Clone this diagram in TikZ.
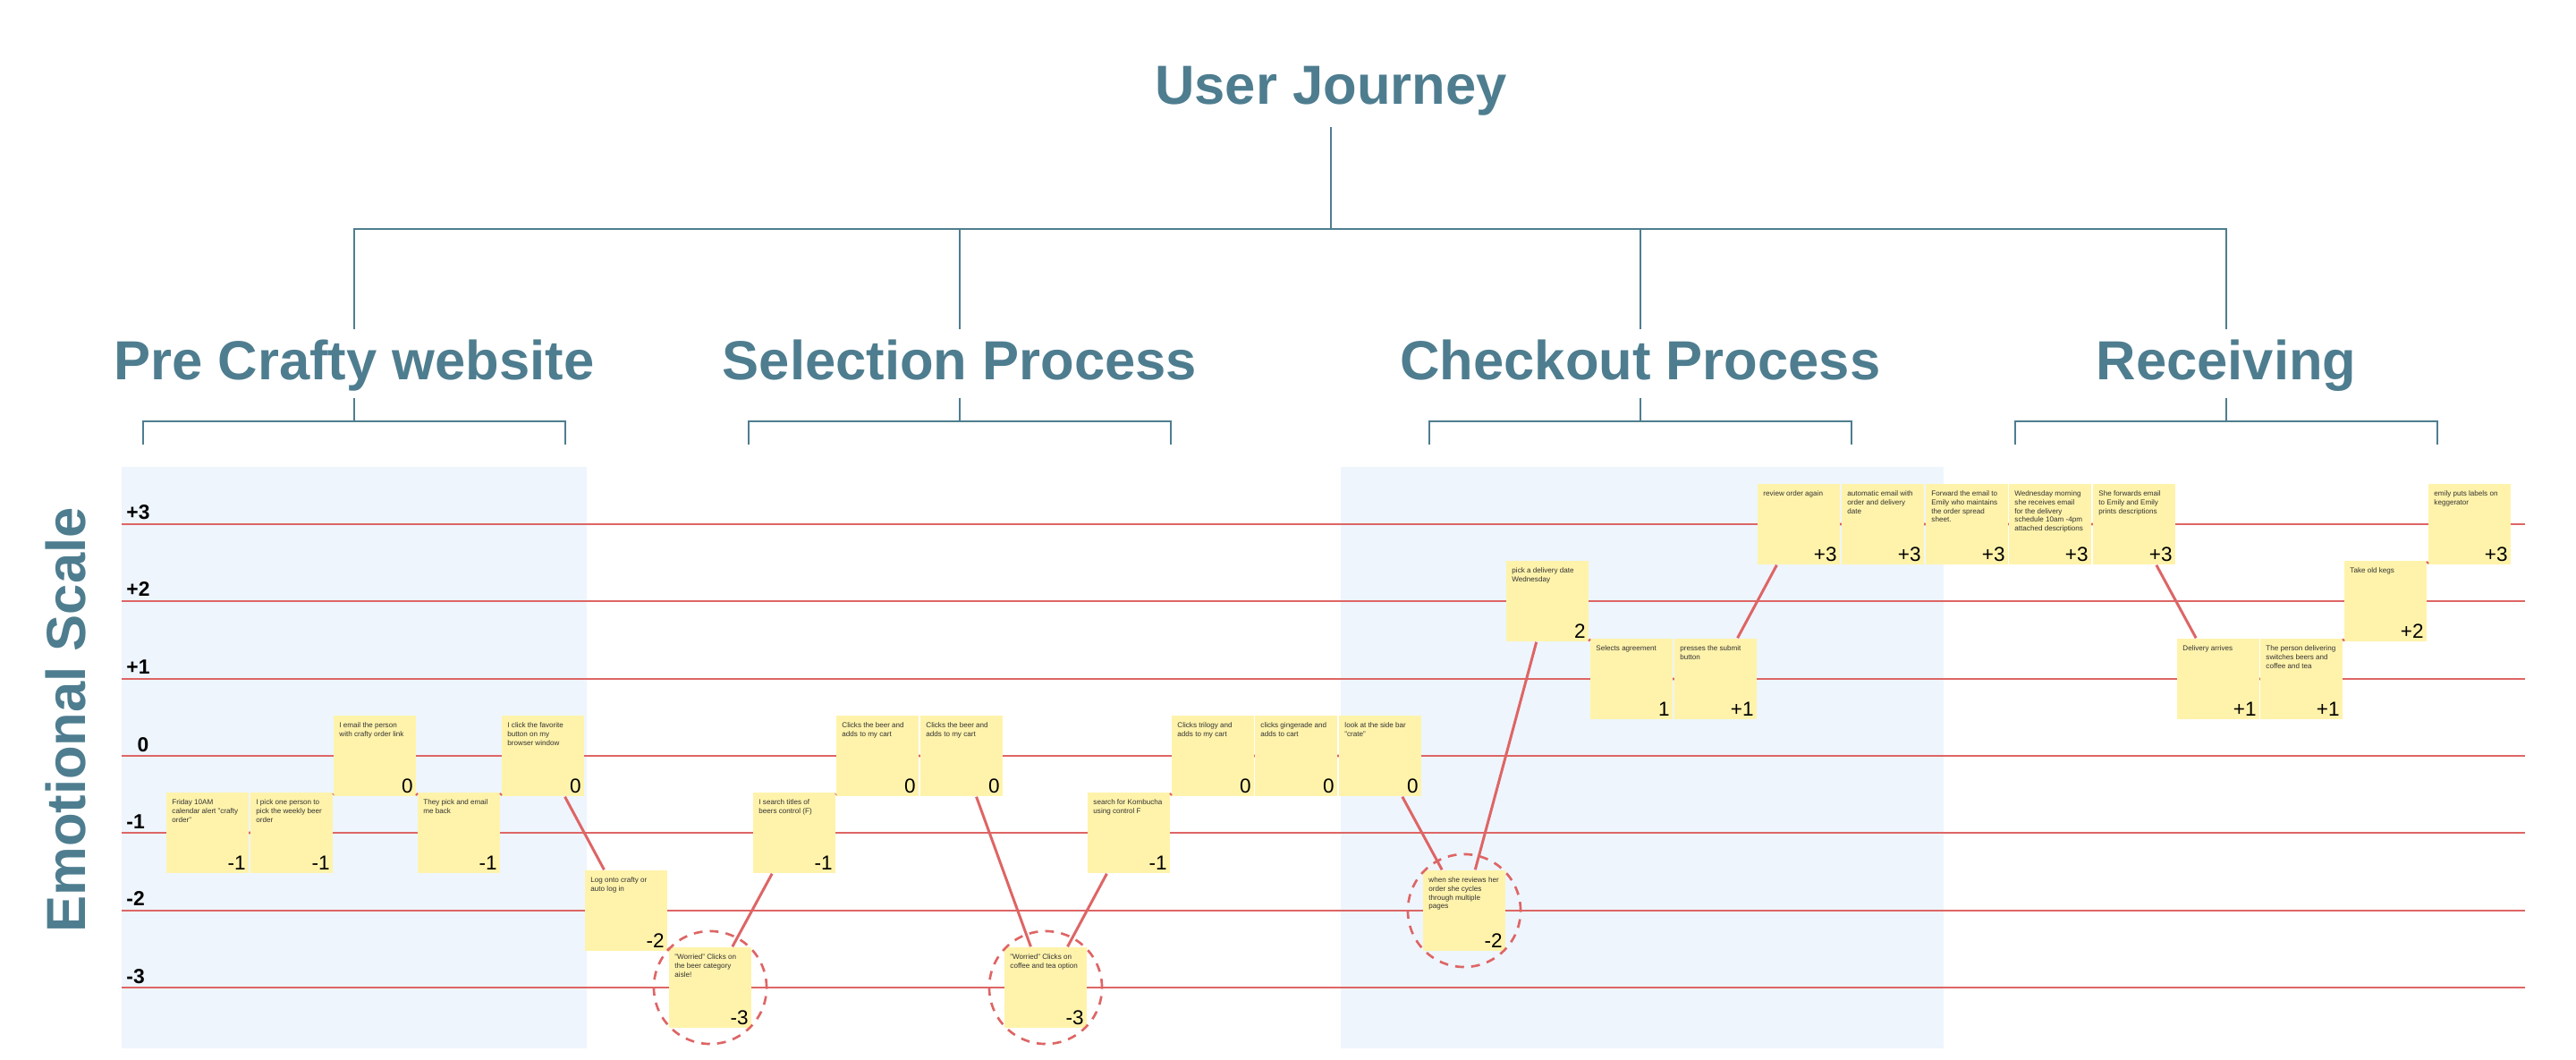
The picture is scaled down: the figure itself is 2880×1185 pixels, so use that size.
\documentclass[tikz,border=0pt]{standalone}
\usepackage{fontspec}
\setmainfont{Liberation Sans}
\definecolor{journeyblue}{HTML}{4E7D8F}
\definecolor{notefill}{HTML}{FFF3AB}
\definecolor{panelblue}{HTML}{EEF5FD}
\definecolor{scalered}{HTML}{DE6565}
\definecolor{notegray}{HTML}{333333}

\tikzset{
  titletext/.style={text=journeyblue, font=\fontsize{17.5}{21}\selectfont\bfseries},
  branch/.style={draw=journeyblue, line width=0.6pt},
  scaleline/.style={draw=scalered, line width=0.85pt},
  scalelabel/.style={anchor=base west, inner sep=0pt, xshift=0.04cm, yshift=0.05cm, font=\fontsize{6.5}{7}\selectfont\bfseries},
  note/.style={fill=notefill, minimum width=0.91cm, minimum height=0.9cm, inner sep=0pt},
  say/.style={label={[anchor=north west, align=left, inner sep=0pt, xshift=0.06cm, yshift=-0.08cm, text=notegray, font=\fontsize{2.3}{2.76}\selectfont]north west:{#1}}},
  score/.style={label={[anchor=south east, inner sep=0pt, xshift=-0.03cm, yshift=0.035cm, font=\fontsize{6.4}{7}\selectfont]south east:{#1}}},
  link/.style={draw=scalered, line width=0.85pt},
  worry/.style={circle, draw=scalered, line width=0.75pt, dash pattern=on 2.8pt off 2.3pt, minimum size=1.26cm, inner sep=0pt},
}

\begin{document}
\begin{tikzpicture}[x=0.01cm, y=-0.01cm]
        \useasboundingbox (0,0) rectangle (2880,1185);

        % headings
        \node[titletext, anchor=base] (journey) at (1488,117) {User Journey};
        \node[titletext, anchor=base] (pre) at (396,425) {Pre Crafty website};
        \node[titletext, anchor=base] (sel) at (1073,425) {Selection Process};
        \node[titletext, anchor=base] (chk) at (1834,425) {Checkout Process};
        \node[titletext, anchor=base] (rec) at (2489,425) {Receiving};
        \node[titletext, rotate=90] (emo) at (74,805) {Emotional Scale};

        \coordinate (hub) at (1488,256);
        \draw[branch] (journey.south) -- (hub);
        \draw[branch] (pre.north) |- (hub) -| (rec.north);
        \draw[branch] (sel.north) -- (sel.north |- hub);
        \draw[branch] (chk.north) -- (chk.north |- hub);

        \draw[branch] ([yshift=-0.2cm]pre.base) -- ++(0,26) coordinate (pb) ++(-236,26) |- (pb) -| ++(236,26);
        \draw[branch] ([yshift=-0.2cm]sel.base) -- ++(0,26) coordinate (sb) ++(-236,26) |- (sb) -| ++(236,26);
        \draw[branch] ([yshift=-0.2cm]chk.base) -- ++(0,26) coordinate (cb) ++(-236,26) |- (cb) -| ++(236,26);
        \draw[branch] ([yshift=-0.2cm]rec.base) -- ++(0,26) coordinate (rb) ++(-236,26) |- (rb) -| ++(236,26);

        % panels and scale
        \fill[panelblue] (136,522) rectangle (656,1172);
        \fill[panelblue] (1499,522) rectangle (2173,1172);

        \draw[scaleline] (136,586) node[scalelabel] (s3) {+3} -- (2823,586);
        \draw[scaleline] (136,672) node[scalelabel] (s2) {+2} -- (2823,672);
        \draw[scaleline] (136,759) node[scalelabel] (s1) {+1} -- (2823,759);
        \draw[scaleline] (136,845) node[scalelabel, xshift=0.12cm] (s0) {0} -- (2823,845);
        \draw[scaleline] (136,931) node[scalelabel] (m1) {-1} -- (2823,931);
        \draw[scaleline] (136,1018) node[scalelabel] (m2) {-2} -- (2823,1018);
        \draw[scaleline] (136,1104) node[scalelabel] (m3) {-3} -- (2823,1104);

        % sticky notes
        \node[note, say={Friday 10AM\\calendar alert "crafty\\order"}, score=-1] (n0) at (232,931) {};
        \node[note, say={I pick one person to\\pick the weekly beer\\order}, score=-1] (n1) at (326,931) {};
        \node[note, say={I email the person\\with crafty order link}, score=0] (n2) at (419,845) {};
        \node[note, say={They pick and email\\me  back}, score=-1] (n3) at (513,931) {};
        \node[note, say={I click the favorite\\button on my\\browser window}, score=0] (n4) at (607,845) {};
        \node[note, say={Log onto crafty or\\auto log in}, score=-2] (n5) at (700,1018) {};
        \node[note, say={"Worried" Clicks on\\the beer  category\\aisle!}, score=-3] (n6) at (794,1104) {};
        \node[note, say={I search titles of\\beers control (F)}, score=-1] (n7) at (888,931) {};
        \node[note, say={Clicks the beer and\\adds to my cart}, score=0] (n8) at (981,845) {};
        \node[note, say={Clicks the beer and\\adds to my cart}, score=0] (n9) at (1075,845) {};
        \node[note, say={"Worried" Clicks on\\coffee and tea option}, score=-3] (n10) at (1169,1104) {};
        \node[note, say={search for Kombucha\\using control F}, score=-1] (n11) at (1262,931) {};
        \node[note, say={Clicks trilogy and\\adds to my cart}, score=0] (n12) at (1356,845) {};
        \node[note, say={clicks gingerade and\\adds to cart}, score=0] (n13) at (1449,845) {};
        \node[note, say={look at the side bar\\"crate"}, score=0] (n14) at (1543,845) {};
        \node[note, say={when she reviews her\\order she cycles\\through multiple\\pages}, score=-2] (n15) at (1637,1018) {};
        \node[note, say={pick a delivery date\\Wednesday}, score=2] (n16) at (1730,672) {};
        \node[note, say={Selects agreement}, score=1] (n17) at (1824,759) {};
        \node[note, say={presses the submit\\button}, score=+1] (n18) at (1918,759) {};
        \node[note, say={review order again}, score=+3] (n19) at (2011,586) {};
        \node[note, say={automatic email with\\order and delivery\\date}, score=+3] (n20) at (2105,586) {};
        \node[note, say={Forward the email to\\Emily who maintains\\the order spread\\sheet.}, score=+3] (n21) at (2199,586) {};
        \node[note, say={Wednesday morning\\she receives email\\for the delivery\\schedule 10am -4pm\\attached descriptions}, score=+3] (n22) at (2292,586) {};
        \node[note, say={She forwards email\\to Emily and Emily\\prints descriptions}, score=+3] (n23) at (2386,586) {};
        \node[note, say={Delivery arrives}, score=+1] (n24) at (2480,759) {};
        \node[note, say={The person delivering\\switches beers and\\coffee and tea}, score=+1] (n25) at (2573,759) {};
        \node[note, say={Take old kegs}, score=+2] (n26) at (2667,672) {};
        \node[note, say={emily puts labels on\\keggerator}, score=+3] (n27) at (2761,586) {};

        \draw[link] (n0) -- (n1) -- (n2) -- (n3) -- (n4) -- (n5) -- (n6) -- (n7) -- (n8) -- (n9)
          -- (n10) -- (n11) -- (n12) -- (n13) -- (n14) -- (n15) -- (n16) -- (n17) -- (n18) -- (n19)
          -- (n20) -- (n21) -- (n22) -- (n23) -- (n24) -- (n25) -- (n26) -- (n27);

        \node[worry] (w6) at (n6) {};
        \node[worry] (w10) at (n10) {};
        \node[worry] (w15) at (n15) {};
\end{tikzpicture}
\end{document}
